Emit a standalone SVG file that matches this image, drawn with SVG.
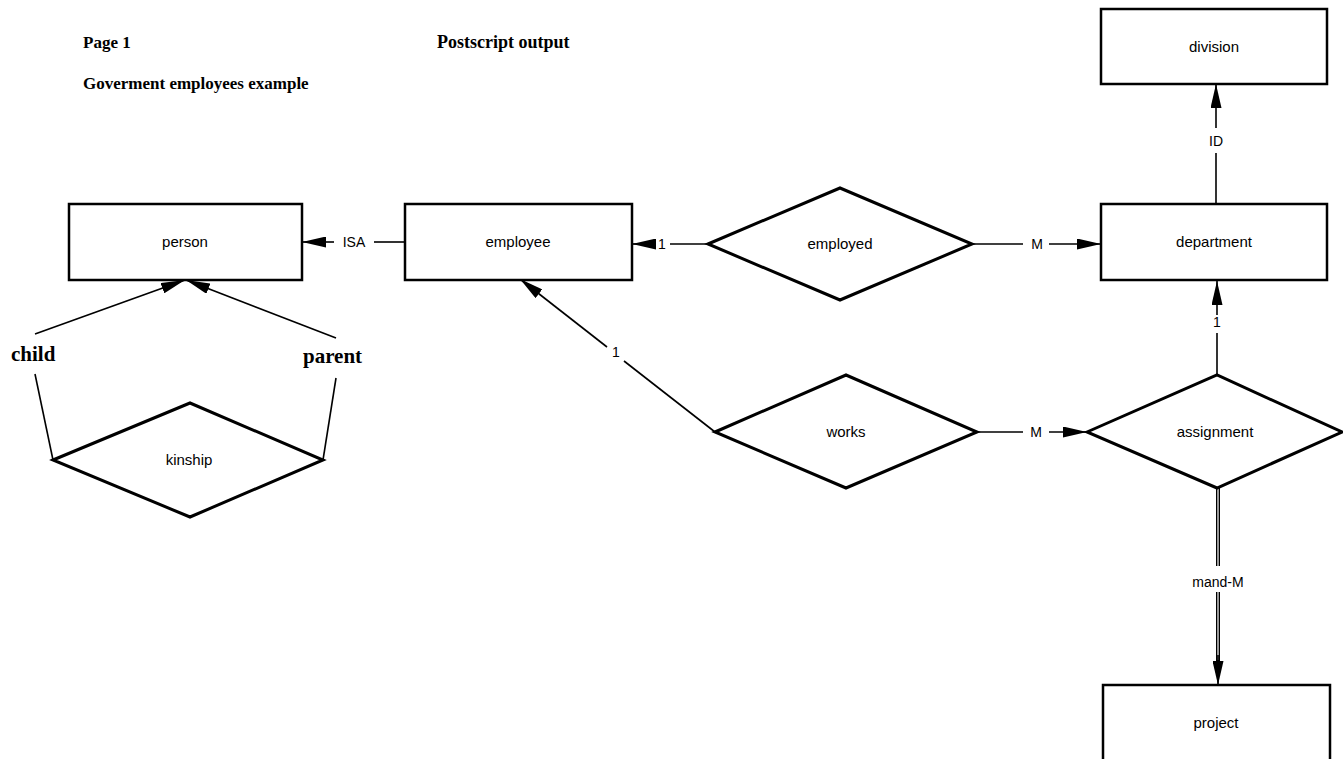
<svg xmlns="http://www.w3.org/2000/svg" width="1343" height="759" viewBox="0 0 1343 759">
<style>
  .box { fill: #fff; stroke: #000; stroke-width: 2.5; }
  .dia { fill: #fff; stroke: #000; stroke-width: 3; stroke-linejoin: miter; }
  .lbl { font-family: "Liberation Sans", Arial, sans-serif; font-size: 15px; fill: #000; text-anchor: middle; }
  .card { font-family: "Liberation Sans", Arial, sans-serif; font-size: 14px; fill: #000; text-anchor: middle; }
  .title { font-family: "Liberation Serif", "Times New Roman", serif; font-size: 17px; font-weight: bold; fill: #000; }
  .role { font-family: "Liberation Serif", "Times New Roman", serif; font-size: 21px; font-weight: bold; fill: #000; }
  .ln { stroke: #000; stroke-width: 1.6; fill: none; }
  .arr { stroke: #000; stroke-width: 1.6; fill: none; marker-end: url(#ah); }
</style>
<defs>
  <marker id="ah" markerUnits="userSpaceOnUse" markerWidth="24" markerHeight="11" refX="24" refY="5.5" orient="auto">
    <path d="M0,0 L24,5.5 L0,11 z" fill="#000"/>
  </marker>
</defs>
<rect x="0" y="0" width="1343" height="759" fill="#fff"/>

<text class="title" x="83" y="48">Page 1</text>
<text class="title" x="437" y="48" style="font-size:18px">Postscript output</text>
<text class="title" x="83" y="89">Goverment employees example</text>

<g id="connectors">
  <!-- ISA -->
  <line class="ln" x1="406" y1="242" x2="374" y2="242"/>
  <text class="card" x="354" y="247">ISA</text>
  <line class="arr" x1="334" y1="242" x2="302" y2="242"/>
  <!-- employed -> employee -->
  <line class="ln" x1="708" y1="244" x2="670" y2="244"/>
  <text class="card" x="662" y="249">1</text>
  <line class="arr" x1="655" y1="244" x2="632" y2="244"/>
  <!-- employed -> department -->
  <line class="ln" x1="972" y1="244" x2="1023" y2="244"/>
  <text class="card" x="1037" y="249">M</text>
  <line class="arr" x1="1049" y1="244" x2="1101" y2="244"/>
  <!-- department -> division ID -->
  <line class="ln" x1="1216" y1="204" x2="1216" y2="153"/>
  <text class="card" x="1216" y="146">ID</text>
  <line class="arr" x1="1216" y1="128" x2="1216" y2="84"/>
  <!-- works -> employee -->
  <line class="ln" x1="715" y1="432" x2="624" y2="361"/>
  <text class="card" x="616" y="357">1</text>
  <line class="arr" x1="607" y1="347" x2="520" y2="279"/>
  <!-- works -> assignment -->
  <line class="ln" x1="977" y1="432" x2="1023" y2="432"/>
  <text class="card" x="1036" y="437">M</text>
  <line class="arr" x1="1049" y1="432" x2="1087" y2="432"/>
  <!-- assignment -> department -->
  <line class="ln" x1="1217" y1="375" x2="1217" y2="333"/>
  <text class="card" x="1217" y="327">1</text>
  <line class="arr" x1="1217" y1="315" x2="1217" y2="281"/>
  <!-- assignment -> project (mandatory, double line) -->
  <line x1="1218" y1="488" x2="1218" y2="566" stroke="#000" stroke-width="4"/>
  <line x1="1218" y1="488" x2="1218" y2="566" stroke="#fff" stroke-width="1.2"/>
  <text class="card" x="1218" y="587">mand-M</text>
  <line x1="1218" y1="592" x2="1218" y2="662" stroke="#000" stroke-width="4"/>
  <line x1="1218" y1="592" x2="1218" y2="660" stroke="#fff" stroke-width="1.2"/>
  <line class="arr" x1="1218" y1="655" x2="1218" y2="685"/>
  <!-- kinship child -->
  <line class="ln" x1="53" y1="460" x2="35" y2="374"/>
  <text class="role" x="11" y="361">child</text>
  <line class="arr" x1="35" y1="334" x2="185" y2="280"/>
  <!-- kinship parent -->
  <line class="ln" x1="323" y1="460" x2="336" y2="378"/>
  <text class="role" x="303" y="363">parent</text>
  <line class="arr" x1="336" y1="338" x2="186" y2="280"/>
</g>

<g id="division">
  <rect class="box" x="1101" y="9" width="226" height="75"/>
  <text class="lbl" x="1214" y="52">division</text>
</g>
<g id="person">
  <rect class="box" x="69" y="204" width="233" height="76"/>
  <text class="lbl" x="185" y="247">person</text>
</g>
<g id="employee">
  <rect class="box" x="405" y="204" width="227" height="76"/>
  <text class="lbl" x="518" y="247">employee</text>
</g>
<g id="department">
  <rect class="box" x="1101" y="204" width="226" height="76"/>
  <text class="lbl" x="1214" y="247">department</text>
</g>
<g id="project">
  <rect class="box" x="1103" y="685" width="227" height="110"/>
  <text class="lbl" x="1216" y="728">project</text>
</g>
<g id="kinship">
  <polygon class="dia" points="53,460 190,403 323,460 190,517"/>
  <text class="lbl" x="189" y="465">kinship</text>
</g>
<g id="employed">
  <polygon class="dia" points="708,244 840,188 972,244 840,300"/>
  <text class="lbl" x="840" y="249">employed</text>
</g>
<g id="works">
  <polygon class="dia" points="715,432 846,375 977,432 846,488"/>
  <text class="lbl" x="846" y="437">works</text>
</g>
<g id="assignment">
  <polygon class="dia" points="1087,432 1217,375 1342,432 1217,488"/>
  <text class="lbl" x="1215" y="437">assignment</text>
</g>
</svg>
